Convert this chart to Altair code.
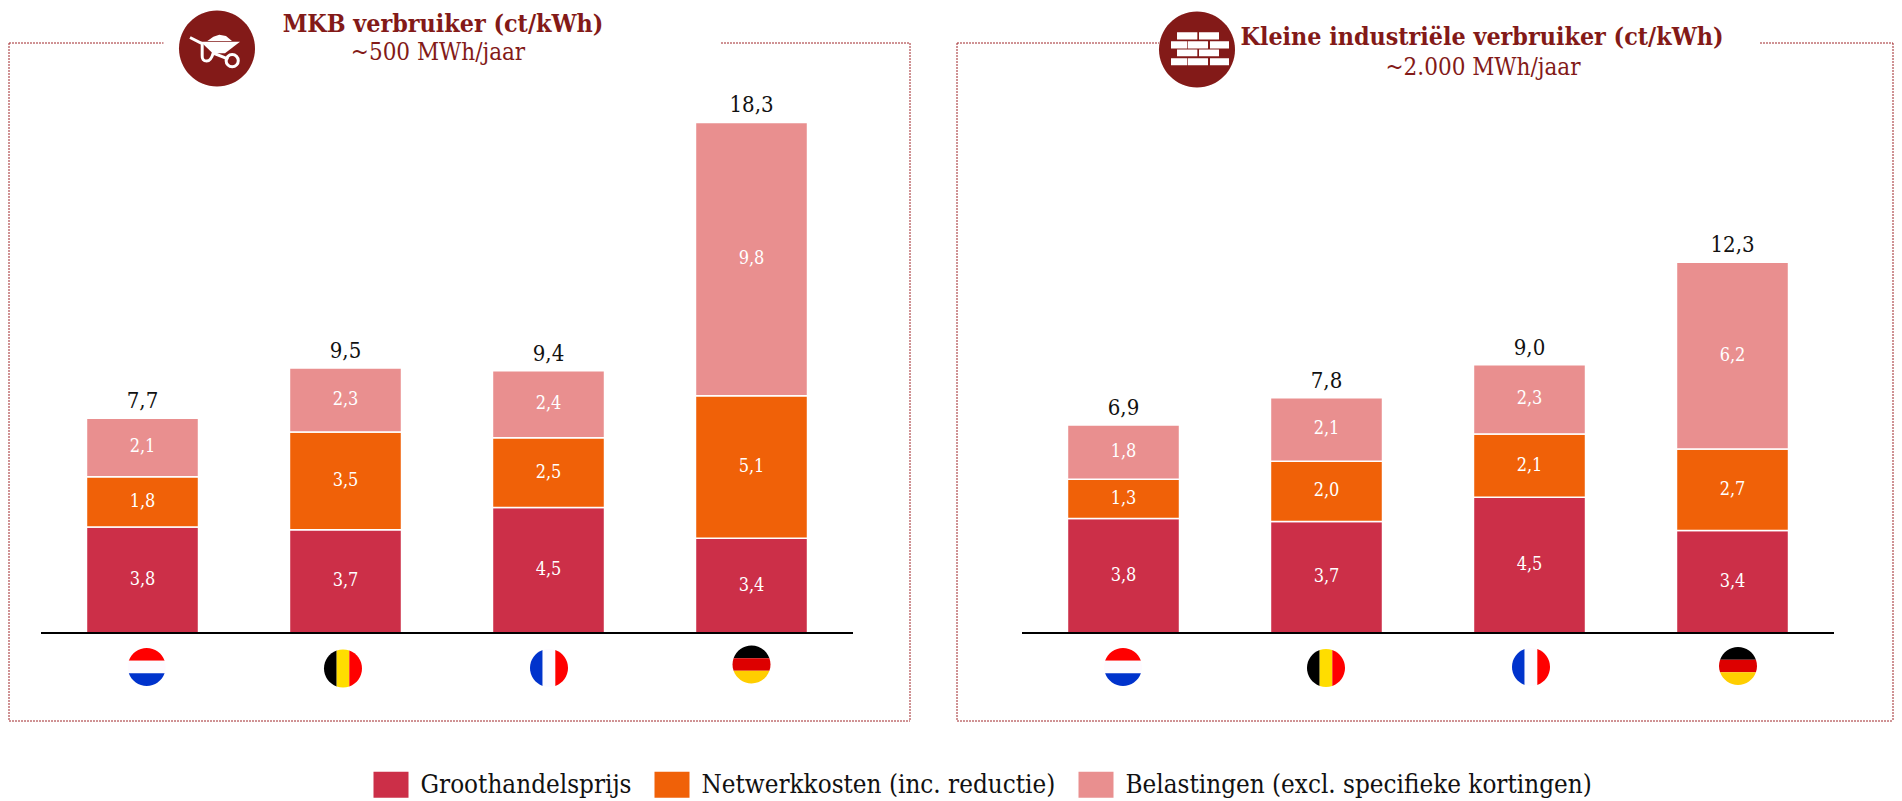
import altair as alt
import pandas as pd

FONT = "DejaVu Serif Condensed"
DARK = "#831A18"
countries = ["NL", "BE", "FR", "DE"]
series = ["Groothandelsprijs", "Netwerkkosten (inc. reductie)", "Belastingen (excl. specifieke kortingen)"]
colors = ["#CC2F48", "#F06108", "#E98F8F"]

left_whole = [3.8, 3.7, 4.5, 3.4]
left_net = [1.8, 3.5, 2.5, 5.1]
left_tax = [2.1, 2.3, 2.4, 9.8]
left_tot = ["7,7", "9,5", "9,4", "18,3"]

right_whole = [3.8, 3.7, 4.5, 3.4]
right_net = [1.3, 2.0, 2.1, 2.7]
right_tax = [1.8, 2.1, 2.3, 6.2]
right_tot = ["6,9", "7,8", "9,0", "12,3"]

H = 780
BASE = 625  # page y 633


def poly(points):
    return "M" + " L".join(f"{(x-141)/114:.3f},{(y-85.5)/114:.3f}" for x, y in points) + " Z"


CIRCLE = "M-1,0 A1,1 0 1 1 1,0 A1,1 0 1 1 -1,0 Z"
a = 0.943
b = 0.333
H_TOP = f"M{-a},{-b} A1,1 0 0 1 {a},{-b} Z"
H_MID = f"M{-a},{-b} L{a},{-b} A1,1 0 0 1 {a},{b} L{-a},{b} A1,1 0 0 1 {-a},{-b} Z"
H_BOT = f"M{a},{b} A1,1 0 0 1 {-a},{b} Z"
V_L = f"M{-b},{a} A1,1 0 0 1 {-b},{-a} Z"
V_M = f"M{-b},{-a} A1,1 0 0 1 {b},{-a} L{b},{a} A1,1 0 0 1 {-b},{a} Z"
V_R = f"M{b},{-a} A1,1 0 0 1 {b},{a} Z"

flag_parts = {
    "NL": [(H_TOP, "#FF0000"), (H_MID, "#FDFBFF"), (H_BOT, "#0033CC")],
    "BE": [(V_L, "#000000"), (V_M, "#FFDD00"), (V_R, "#FF0000")],
    "FR": [(V_L, "#0033CC"), (V_M, "#FDFBFF"), (V_R, "#FF0000")],
    "DE": [(H_TOP, "#000000"), (H_MID, "#DD0000"), (H_BOT, "#FFCE00")],
}

TRAY = poly([(92, 65), (210, 65), (165, 100), (128, 100)])
MOUND = poly([(112, 63), (130, 50), (148, 44), (168, 48), (186, 63)])
HANDLE = ("M-0.71,-0.29 L-0.39,-0.13 L-0.39,0.18 Q-0.4,0.33 -0.27,0.33 Q-0.16,0.33 -0.1,0.12 L0.3,0.28")
WHEEL = "M0.24,0.32 A0.16,0.16 0 1 1 0.56,0.32 A0.16,0.16 0 1 1 0.24,0.32 Z"


def brick(x0, x1, y0, y1, cy):
    pts = [(x0, y0), (x1, y0), (x1, y1), (x0, y1)]
    return "M" + " L".join(f"{(x-141)/114:.3f},{(y-cy)/114:.3f}" for x, y in pts) + " Z"


BRICKS = " ".join(
    brick(x0, x1, y0, y1, 148)
    for (y0, y1, xs) in [
        (96, 118, [(81, 142), (147, 207)]),
        (123, 145, [(63, 112), (114, 174), (180, 237)]),
        (148, 168, [(81, 142), (147, 207)]),
        (174, 195, [(63, 112), (114, 174), (180, 237)]),
    ]
    for (x0, x1) in xs
)


def panel(width, x_range, unit, whole, net, tax, totals, total_pos, box, gap, flags, titles, icon):
    x_off, right, top, bottom = box
    rows = []
    for i, c in enumerate(countries):
        y0 = 0
        for s, v in zip(series, (whole[i], net[i], tax[i])):
            rows.append(dict(country=c, series=s, y0=y0, y1=y0 + v, mid=y0 + v / 2,
                             label=f"{v:.1f}".replace(".", ",")))
            y0 += v
    df = pd.DataFrame(rows)
    tot = pd.DataFrame(dict(country=countries, y=total_pos, label=totals))

    xs = alt.Scale(domain=countries, range=x_range, paddingInner=0.448, paddingOuter=0.224)
    ys = alt.Scale(domain=[-(H - BASE) / unit, BASE / unit], nice=False, zero=False)
    X = alt.X("country:N", scale=xs, axis=None, sort=countries)

    bars = alt.Chart(df).mark_bar(stroke="white", strokeWidth=1.5).encode(
        x=X,
        y=alt.Y("y0:Q", scale=ys, axis=None),
        y2="y1:Q",
        color=alt.Color(
            "series:N",
            scale=alt.Scale(domain=series, range=colors),
            legend=alt.Legend(
                orient="none", legendX=365.5, legendY=759, direction="horizontal", columns=3,
                title=None, symbolType="M-1,-0.743 L1,-0.743 L1,0.743 L-1,0.743 Z", symbolSize=1225,
                symbolStrokeWidth=0, labelFont=FONT, labelFontSize=25.8, labelColor="#111111",
                labelOffset=12, columnPadding=23, labelLimit=700, padding=0,
            ),
        ),
    )
    vals = alt.Chart(df).mark_text(font=FONT, fontSize=18, color="white", baseline="middle").encode(
        x=X, y=alt.Y("mid:Q", scale=ys, axis=None), text="label:N")
    tots = alt.Chart(tot).mark_text(font=FONT, fontSize=22, color="#111111", baseline="middle", dy=-17).encode(
        x=X, y=alt.Y("y:Q", scale=ys, axis=None), text="label:N")
    base = alt.Chart(pd.DataFrame(dict(y=[0]))).mark_rule(color="#000000", strokeWidth=2).encode(
        x=alt.value(x_range[0]), x2=alt.value(x_range[1]), y=alt.Y("y:Q", scale=ys, axis=None))

    frame_rows = [
        (x_off, gap[0], top, top), (gap[1], right, top, top),
        (x_off, right, bottom, bottom), (x_off, x_off, top, bottom), (right, right, top, bottom),
    ]
    frame = [
        alt.Chart(pd.DataFrame(dict(i=[0]))).mark_rule(color="#A0262A", strokeWidth=1, strokeDash=[2, 1]).encode(
            x=alt.value(x0), x2=alt.value(x1), y=alt.value(y0), y2=alt.value(y1))
        for x0, x1, y0, y1 in frame_rows
    ]

    fl = []
    for c, (fx, fy) in zip(countries, flags):
        for path, col in flag_parts[c]:
            fl.append(dict(px=fx, py=fy, path=path, col=col))
    flag_layer = alt.Chart(pd.DataFrame(fl)).mark_point(filled=True, size=1444, opacity=1, strokeWidth=0).encode(
        x=alt.X("px:Q", scale=None), y=alt.Y("py:Q", scale=None),
        shape=alt.Shape("path:N", scale=None), fill=alt.Fill("col:N", scale=None),
    )

    tx = []
    for (t, x, y, bold) in titles:
        tx.append(
            alt.Chart(pd.DataFrame(dict(t=[t]))).mark_text(
                font=FONT, fontSize=24.8 if bold else 24, fontWeight="bold" if bold else "normal",
                color=DARK, baseline="middle", align="center",
            ).encode(x=alt.value(x), y=alt.value(y), text="t:N")
        )

    ix, iy, fill_paths, stroke_paths = icon
    pt = alt.Chart(pd.DataFrame(dict(i=[0])))
    ic = [pt.mark_point(shape=CIRCLE, filled=True, size=76 ** 2, color=DARK, opacity=1).encode(
        x=alt.value(ix), y=alt.value(iy))]
    for p in fill_paths:
        ic.append(pt.mark_point(shape=p, filled=True, size=76 ** 2, color="white", opacity=1).encode(
            x=alt.value(ix), y=alt.value(iy)))
    for p in stroke_paths:
        ic.append(pt.mark_point(shape=p, filled=False, size=76 ** 2, color="white", opacity=1, strokeWidth=3).encode(
            x=alt.value(ix), y=alt.value(iy)))

    return alt.layer(*frame, bars, vals, tots, base, flag_layer, *tx, *ic).properties(width=width, height=H)


def cum(*arrs):
    return [round(sum(v), 1) for v in zip(*arrs)]


left = panel(
    924, [33, 845], 27.9, left_whole, left_net, left_tax, left_tot,
    cum(left_whole, left_net, left_tax),
    (1, 902, 35, 713), (155.5, 713),
    [(138.7, 659), (335, 660.5), (541, 660), (743.5, 656.5)],
    [("MKB verbruiker (ct/kWh)", 435, 17, True), ("~500 MWh/jaar", 430, 44.5, False)],
    (209, 40.5, [TRAY, MOUND], [HANDLE, WHEEL]),
)
right = panel(
    958, [90, 902], 30.15, right_whole, right_net, right_tax, right_tot,
    cum(right_whole, right_net, right_tax),
    (25, 961, 35, 713), (227, 828),
    [(191, 659), (394, 660), (599, 659), (806, 658)],
    [("Kleine industriële verbruiker (ct/kWh)", 550, 29.5, True), ("~2.000 MWh/jaar", 551, 60, False)],
    (265, 41.5, [BRICKS], []),
)

chart = alt.hconcat(left, right, spacing=0, padding=0, bounds="flush").configure_view(stroke=None)
chart.save("out.html", embed_options={"renderer": "svg", "actions": False})
